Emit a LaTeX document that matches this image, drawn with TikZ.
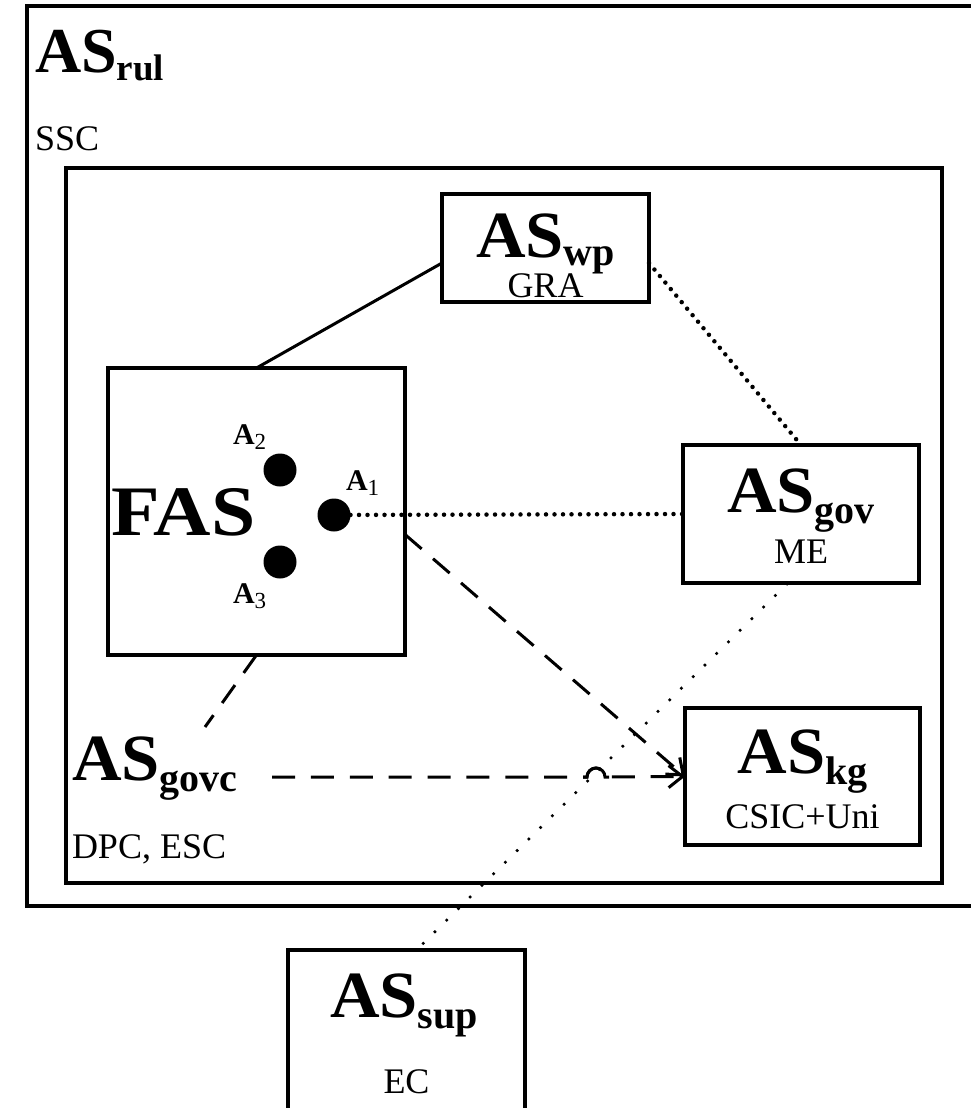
\documentclass[tikz,border=0pt]{standalone}
\usepackage{fontspec}
\setmainfont{Liberation Serif}
\usepackage{graphicx}
\usetikzlibrary{arrows.meta}
\newcommand\bigtxt[1]{\scalebox{1.04}[1]{\fontsize{66}{66}\selectfont\bfseries #1}}
\newcommand\sbt[1]{\raisebox{-11pt}{\fontsize{40}{40}\selectfont\bfseries #1}}
\newcommand\ASname[1]{\bigtxt{AS}\sbt{#1}}
\newcommand\ASwp[1]{\bigtxt{AS}\raisebox{-8pt}{\fontsize{40}{40}\selectfont\bfseries #1}}
\newcommand\ASrul[1]{{\fontsize{64}{64}\selectfont\bfseries AS}\raisebox{-9pt}{\fontsize{37}{37}\selectfont\bfseries #1}}
\newcommand\Alab[1]{{\fontsize{30}{30}\selectfont\bfseries A}\raisebox{-5pt}{\fontsize{23}{23}\selectfont #1}}
\begin{document}
\begin{tikzpicture}[x=1pt,y=-1pt,
  box/.style={draw,line width=3.2pt,rectangle,inner sep=0pt,outer sep=0pt},
  conn/.style={line width=3pt},
  dashedc/.style={conn,dash pattern=on 22pt off 15pt},
  hopdash/.style={conn,dash pattern=on 23pt off 15.875pt},
  dotc/.style={line width=4.5pt,line cap=round,dash pattern=on 0pt off 8.5pt},
  sparse/.style={line width=2.5pt,dash pattern=on 2.5pt off 14pt},
  lbl/.style={inner sep=0pt,outer sep=0pt},
  small/.style={lbl,font=\fontsize{36}{36}\selectfont},
  dot/.style={circle,fill,minimum size=33pt,inner sep=0pt,outer sep=0pt},
  tip/.style={-{Straight Barb[length=14pt,width=22pt,line width=3pt]}}]
\useasboundingbox[fill=white] (0,0) rectangle (971,1108);
% boxes
\node[box,line width=4.5pt,minimum width=963pt,minimum height=900pt] (rul) at (508.5,456) {};
\node[box,minimum width=876pt,minimum height=715pt] (inner) at (504,525.5) {};
\node[box,minimum width=207pt,minimum height=108pt] (wp) at (545.5,248) {};
\node[box,minimum width=297pt,minimum height=287pt] (fas) at (256.5,511.5) {};
\node[box,minimum width=236pt,minimum height=138pt] (gov) at (801,514) {};
\node[box,minimum width=235pt,minimum height=137pt] (kg) at (802.5,776.5) {};
\node[box,minimum width=237pt,minimum height=180pt] (sup) at (406.5,1040) {};
% texts
\node[lbl,anchor=base west] (rultxt) at (35,72) {\ASrul{rul}};
\node[small,anchor=base west] (ssc) at (35,150) {SSC};
\node[lbl,anchor=base] (wptxt) at (545.5,257) {\ASwp{wp}};
\node[small,anchor=base] (gra) at (545.5,297) {GRA};
\node[lbl,anchor=base] (govtxt) at (801,512) {\ASname{gov}};
\node[small,anchor=base] (me) at (801,563) {ME};
\node[lbl,anchor=base] (kgtxt) at (802.5,773) {\ASname{kg}};
\node[small,anchor=base] (csic) at (802.5,828) {CSIC+Uni};
\node[lbl,anchor=base] (suptxt) at (404,1017) {\ASname{sup}};
\node[small,anchor=base] (ec) at (406.5,1093) {EC};
\node[lbl,anchor=base west] (fastxt) at (111,535) {\scalebox{1.12}[1]{\fontsize{71}{71}\selectfont\bfseries FAS}};
\node[lbl,anchor=base west] (govctxt) at (72,780) {\ASname{govc}};
\node[small,anchor=base west] (dpc) at (72,858) {DPC, ESC};
% agents
\node[dot] (a1) at (334,515) {};
\node[dot] (a2) at (280,470) {};
\node[dot] (a3) at (280,562) {};
\node[lbl,anchor=base west] (a1l) at (346,490) {\Alab{1}};
\node[lbl,anchor=base west] (a2l) at (233,444) {\Alab{2}};
\node[lbl,anchor=base west] (a3l) at (233,603) {\Alab{3}};
% connector end points
\coordinate (govctop) at (205,727);
\coordinate (govcr) at (272,777);
\coordinate (hopl) at (587,777);
% connectors
\draw[conn] (fas.north) -- ([yshift=-15pt]wp.west);
\draw[dotc] ([yshift=-15pt]wp.east) -- (gov.north);
\draw[dotc] (a1) -- (gov.west);
\draw[dashedc,tip] ([yshift=-23pt]fas.east) -- (kg.west);
\draw[dashedc] (fas.south) -- (govctop);
\draw[hopdash,tip] (govcr) -- (hopl) arc[start angle=180,end angle=0,radius=9pt] -- (kg.west);
\draw[conn] ([xshift=-4pt]hopl) -- (hopl) arc[start angle=180,end angle=0,radius=9pt] -- ++(4pt,0);
\draw[sparse] ([xshift=-13pt]gov.south) -- ([xshift=10pt]sup.north);
\end{tikzpicture}
\end{document}
